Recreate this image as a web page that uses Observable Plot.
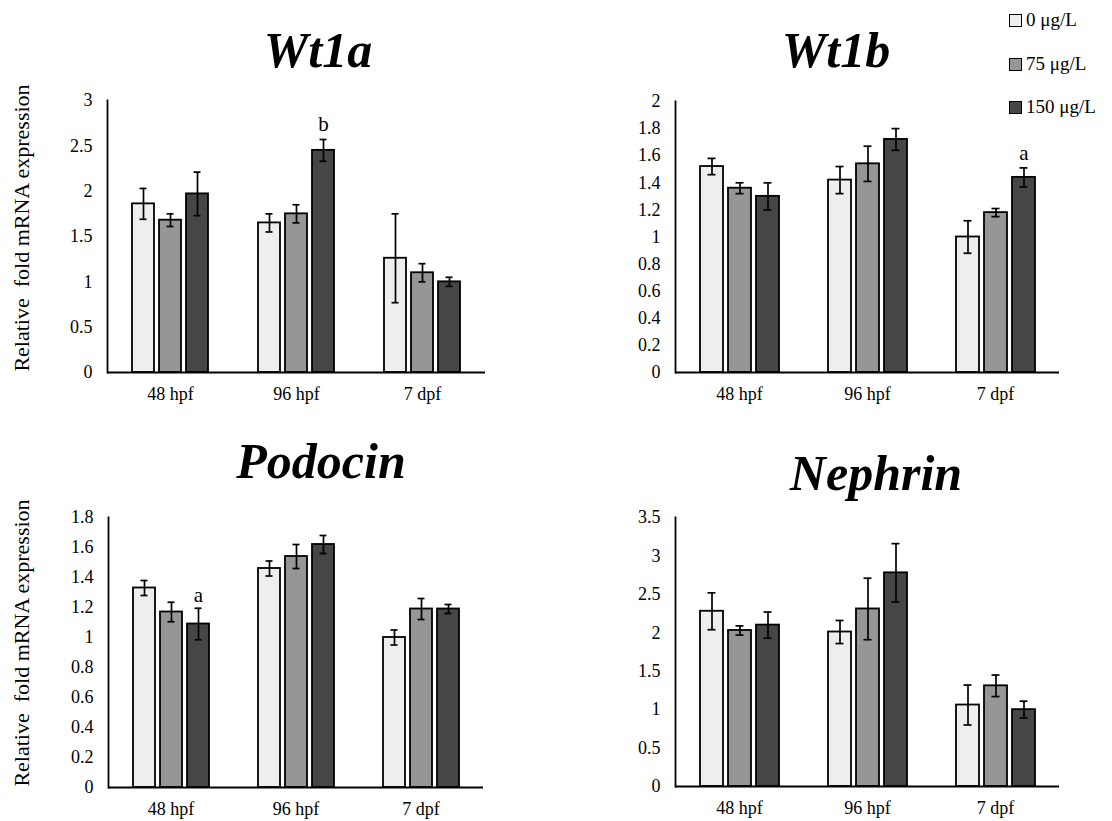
<!DOCTYPE html>
<html>
<head>
<meta charset="utf-8">
<script src="https://cdn.jsdelivr.net/npm/d3@7"></script>
<script src="https://cdn.jsdelivr.net/npm/@observablehq/plot@0.6"></script>
<style>
  body { margin: 0; background: #fff; }
  #chart { position: relative; width: 1112px; height: 821px; font-family: "Liberation Serif", "Times New Roman", serif; color: #000; overflow: hidden; }
  .panel { position: absolute; }
  .panel svg { overflow: visible; font-family: "Liberation Serif", "Times New Roman", serif !important; }
  .panel svg text { font-family: "Liberation Serif", "Times New Roman", serif !important; }
  .title { position: absolute; font-family: "Liberation Serif", "Times New Roman", serif; font-weight: bold; font-style: italic; font-size: 50px; line-height: 1; white-space: nowrap; transform: translateX(-50%); }
  .ylab { position: absolute; font-family: "Liberation Serif", "Times New Roman", serif; font-size: 22px; line-height: 1; white-space: pre; transform: translate(-50%, -50%) rotate(-90deg); }
  .legend { position: absolute; left: 1009px; top: 0; font-family: "Liberation Serif", "Times New Roman", serif; }
  .legend .row { position: absolute; left: 0; display: flex; align-items: center; white-space: nowrap; font-size: 19px; transform: translateY(-50%); }
  .legend .sw { width: 11px; height: 11px; border: 1.5px solid #000; margin-right: 4px; }
</style>
</head>
<body>
<div id="chart"></div>
<script>
// ---- data ----
const timepoints = ["48 hpf", "96 hpf", "7 dpf"];
const doses = ["0 μg/L", "75 μg/L", "150 μg/L"];
const doseColors = ["#eeeeee", "#969696", "#464646"];
const genes = ["Wt1a", "Wt1b", "Podocin", "Nephrin"];

// means, ordered timepoint by timepoint, dose within timepoint
const wt1aMean = [1.86, 1.68, 1.97, 1.65, 1.75, 2.45, 1.26, 1.10, 1.00];
const wt1aErr  = [0.17, 0.07, 0.24, 0.10, 0.10, 0.12, 0.49, 0.10, 0.05];
const wt1bMean = [1.52, 1.36, 1.30, 1.42, 1.54, 1.72, 1.00, 1.18, 1.44];
const wt1bErr  = [0.06, 0.04, 0.10, 0.10, 0.13, 0.08, 0.12, 0.03, 0.07];
const podocinMean = [1.33, 1.17, 1.09, 1.46, 1.54, 1.62, 1.00, 1.19, 1.19];
const podocinErr  = [0.05, 0.065, 0.105, 0.05, 0.08, 0.06, 0.05, 0.07, 0.03];
const nephrinMean = [2.28, 2.03, 2.10, 2.01, 2.31, 2.78, 1.06, 1.31, 1.00];
const nephrinErr  = [0.24, 0.06, 0.17, 0.15, 0.40, 0.38, 0.26, 0.14, 0.11];

// y-axis ticks per gene
const wt1aTicks = [0, 0.5, 1, 1.5, 2, 2.5, 3];
const wt1bTicks = [0, 0.2, 0.4, 0.6, 0.8, 1, 1.2, 1.4, 1.6, 1.8, 2];
const podocinTicks = [0, 0.2, 0.4, 0.6, 0.8, 1, 1.2, 1.4, 1.6, 1.8];
const nephrinTicks = [0, 0.5, 1, 1.5, 2, 2.5, 3, 3.5];

// significance letters
const wt1aLetters = [{time: "96 hpf", dose: "150 μg/L", y: 2.74, text: "b"}];
const wt1bLetters = [{time: "7 dpf", dose: "150 μg/L", y: 1.62, text: "a"}];
const podocinLetters = [{time: "48 hpf", dose: "150 μg/L", y: 1.28, text: "a"}];
const nephrinLetters = [];

const yLabel = "Relative  fold mRNA expression";

// ---- layout ----
const chart = document.getElementById("chart");
const serif = '"Liberation Serif", "Times New Roman", serif';

function rows(means, errs) {
  const out = [];
  timepoints.forEach((t, i) => doses.forEach((d, j) => {
    const k = i * doses.length + j;
    out.push({time: t, dose: d, mean: means[k], err: errs[k]});
  }));
  return out;
}

function panel(opts) {
  const data = rows(opts.mean, opts.err);
  const ticks = opts.ticks;
  const p = Plot.plot({
    width: opts.W, height: opts.H,
    marginLeft: opts.ml, marginRight: opts.mr, marginTop: opts.mt, marginBottom: opts.mb,
    style: {fontFamily: serif, fontSize: "18px", color: "#000", background: "transparent", overflow: "visible"},
    fx: {domain: timepoints, padding: 0},
    x: {domain: doses, paddingInner: 0.19, paddingOuter: 0.88, axis: null},
    y: {domain: [ticks[0], ticks[ticks.length - 1]]},
    color: {domain: doses, range: doseColors},
    marks: [
      Plot.barY(data, {fx: "time", x: "dose", y: "mean", fill: "dose", stroke: "#000", strokeWidth: 1.8}),
      Plot.ruleX(data, {fx: "time", x: "dose", y1: d => d.mean - d.err, y2: d => d.mean + d.err, stroke: "#000", strokeWidth: 1.7}),
      Plot.tickY(data, {fx: "time", x: "dose", y: d => d.mean + d.err, insetLeft: 7.5, insetRight: 7.5, stroke: "#000", strokeWidth: 1.7}),
      Plot.tickY(data, {fx: "time", x: "dose", y: d => d.mean - d.err, insetLeft: 7.5, insetRight: 7.5, stroke: "#000", strokeWidth: 1.7}),
      Plot.text(opts.letters, {fx: "time", x: "dose", y: "y", text: "text", fontSize: 21, fontFamily: serif, fill: "#000"}),
      Plot.ruleY([0], {stroke: "#000", strokeWidth: 1.8}),
      Plot.frame({anchor: "left", facetAnchor: "left", stroke: "#000", strokeWidth: 1.8}),
      Plot.axisY({ticks: ticks, tickSize: 0, tickPadding: 15, tickFormat: d => String(d), label: null, fontFamily: serif}),
      Plot.axisFx({anchor: "bottom", tickSize: 0, tickPadding: 15, label: null, fontFamily: serif})
    ]
  });
  const div = document.createElement("div");
  div.className = "panel";
  div.style.left = opts.left + "px";
  div.style.top = opts.top + "px";
  div.appendChild(p);
  chart.appendChild(div);
}

panel({mean: wt1aMean, err: wt1aErr, ticks: wt1aTicks, letters: wt1aLetters,
       left: 0, top: 85, W: 500, H: 330, ml: 107, mr: 15, mt: 15, mb: 43});
panel({mean: wt1bMean, err: wt1bErr, ticks: wt1bTicks, letters: wt1bLetters,
       left: 560, top: 85, W: 515, H: 330, ml: 115, mr: 16, mt: 16, mb: 43});
panel({mean: podocinMean, err: podocinErr, ticks: podocinTicks, letters: podocinLetters,
       left: 0, top: 500, W: 500, H: 320, ml: 107, mr: 16, mt: 17, mb: 33});
panel({mean: nephrinMean, err: nephrinErr, ticks: nephrinTicks, letters: nephrinLetters,
       left: 560, top: 500, W: 515, H: 320, ml: 115, mr: 16, mt: 17, mb: 34});

// titles
const titlePos = [[318, 25], [836, 25], [321, 436], [876, 448]];
genes.forEach((g, i) => {
  const t = document.createElement("div");
  t.className = "title";
  t.textContent = g;
  t.style.left = titlePos[i][0] + "px";
  t.style.top = titlePos[i][1] + "px";
  chart.appendChild(t);
});

// y labels
[[22, 228], [22, 643]].forEach(([x, y]) => {
  const l = document.createElement("div");
  l.className = "ylab";
  l.textContent = yLabel;
  l.style.left = x + "px";
  l.style.top = y + "px";
  chart.appendChild(l);
});

// legend
const legend = document.createElement("div");
legend.className = "legend";
const legendY = [20, 64, 107];
doses.forEach((d, i) => {
  const r = document.createElement("div");
  r.className = "row";
  r.style.top = legendY[i] + "px";
  const sw = document.createElement("div");
  sw.className = "sw";
  sw.style.background = doseColors[i];
  const tx = document.createElement("span");
  tx.textContent = d;
  r.appendChild(sw);
  r.appendChild(tx);
  legend.appendChild(r);
});
chart.appendChild(legend);
</script>
</body>
</html>
